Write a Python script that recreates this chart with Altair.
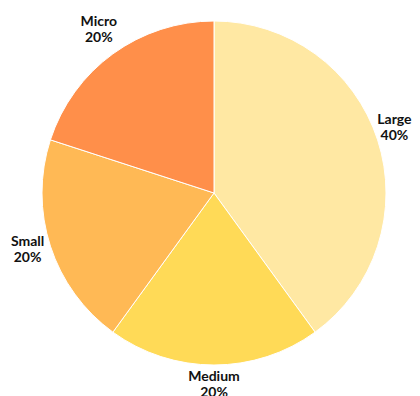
import altair as alt
import pandas as pd

categories = ["Large", "Medium", "Small", "Micro"]
shares = [40, 20, 20, 20]
colors = ["#FFE8A3", "#FFDA57", "#FFB955", "#FF8F4A"]

df = pd.DataFrame({
    "category": categories,
    "share": shares,
    "order": list(range(len(categories))),
})
df["label"] = df.apply(lambda r: [r["category"], f"{r['share']}%"], axis=1)

base = alt.Chart(df).encode(
    theta=alt.Theta("share:Q", stack=True),
    order=alt.Order("order:Q"),
    x=alt.value(206),
    y=alt.value(185),
)

pie = base.mark_arc(outerRadius=172, stroke="white", strokeWidth=1).encode(
    color=alt.Color("category:N", scale=alt.Scale(domain=categories, range=colors), legend=None)
)

text_style = dict(radius=196, dy=-12, font="Lato", fontWeight="bold", fontSize=14,
                  lineHeight=16, align="center", baseline="middle", color="#111111")

text_main = base.mark_text(**text_style).encode(
    text="label",
    opacity=alt.condition(alt.datum.category == "Large", alt.value(0), alt.value(1)),
)
text_large = base.mark_text(dx=-6, **text_style).encode(
    text="label",
    opacity=alt.condition(alt.datum.category == "Large", alt.value(1), alt.value(0)),
)

chart = (pie + text_main + text_large).properties(
    width=404, height=388, padding=0, autosize=alt.AutoSizeParams(type="none")
).configure_view(stroke=None)

chart.save("out.html", embed_options={"renderer": "svg", "actions": False})
